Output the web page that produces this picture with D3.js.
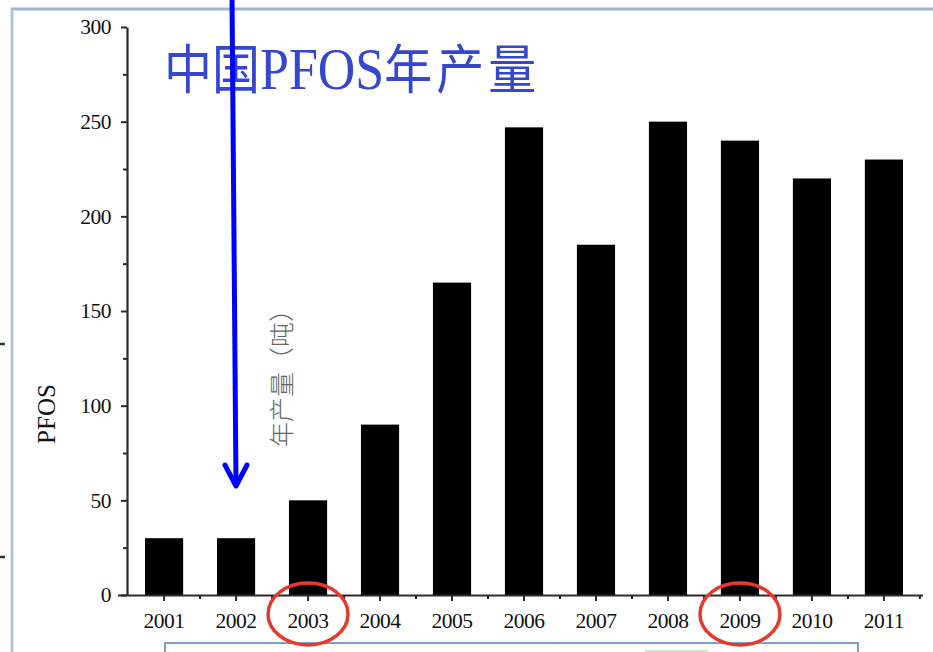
<!DOCTYPE html>
<html><head><meta charset="utf-8">
<script src="https://cdn.jsdelivr.net/npm/d3@7"></script>
<style>html,body{margin:0;padding:0;background:#fff;overflow:hidden}</style>
</head><body>
<script>
const years = ["2001","2002","2003","2004","2005","2006","2007","2008","2009","2010","2011"];
const production = [30,30,50,90,165,247,185,250,240,220,230];
const yTicks = [0,50,100,150,200,250,300];
const yMinorTicks = [25,75,125,175,225,275];
const circledYears = ["2003","2009"];
const titleParts = ["中国","PFOS","年产量"];

const W = 933, H = 652;
const svg = d3.select("body").append("svg").attr("width", W).attr("height", H);

// slide frame
svg.append("line").attr("x1",11).attr("y1",9).attr("x2",W).attr("y2",9)
  .attr("stroke","#9cb2d6").attr("stroke-width",3);
svg.append("line").attr("x1",12).attr("y1",9).attr("x2",12).attr("y2",H)
  .attr("stroke","#b4c4de").attr("stroke-width",3);
svg.append("path").attr("d","M165,652V643H858V652")
  .attr("fill","none").attr("stroke","#7d9ecd").attr("stroke-width",2);
svg.append("line").attr("x1",645).attr("y1",651).attr("x2",708).attr("y2",651)
  .attr("stroke","#cfe0c8").attr("stroke-width",2);
[344,557].forEach(y => svg.append("line").attr("x1",0).attr("x2",5).attr("y1",y).attr("y2",y)
  .attr("stroke","#333").attr("stroke-width",2.5));

const x = d3.scaleBand().domain(years).range([127, 921]).paddingInner(0.47).paddingOuter(0.25);
const y = d3.scaleLinear().domain([0,300]).range([595, 27]);

// bars
svg.append("g").selectAll("rect").data(years).join("rect")
  .attr("x", d => x(d)).attr("width", x.bandwidth())
  .attr("y", (d,i) => y(production[i])).attr("height", (d,i) => y(0) - y(production[i]))
  .attr("fill", "#000");

const serif = "'Liberation Serif','Times New Roman',serif";

// y axis
const yAxis = svg.append("g").attr("transform","translate(127,0)")
  .call(d3.axisLeft(y).tickValues(yTicks).tickSize(6).tickPadding(10).tickSizeOuter(0));
svg.append("g").attr("transform","translate(127,0)")
  .call(d3.axisLeft(y).tickValues(yMinorTicks).tickSize(4).tickFormat("").tickSizeOuter(0))
  .call(g => g.select(".domain").remove());

// x axis
const xAxis = svg.append("g").attr("transform","translate(0,595)")
  .call(d3.axisBottom(x).tickSize(6).tickPadding(12).tickSizeOuter(0));
xAxis.select(".domain").attr("d","M118,0.5H923");
const bounds = years.slice(1).map(d => x(d) - x.step()*x.paddingInner()/2).concat([x(years[years.length-1]) + x.bandwidth() + x.step()*x.paddingInner()/2]);
svg.append("g").attr("transform","translate(0,595)").selectAll("line").data(bounds).join("line")
  .attr("x1", d => d).attr("x2", d => d).attr("y1", 0).attr("y2", 4)
  .attr("stroke","#222").attr("stroke-width",2);

[yAxis, xAxis].forEach(g => {
  g.select(".domain").attr("stroke","#2a2a2a").attr("stroke-width",2.2);
  g.selectAll(".tick line").attr("stroke","#2a2a2a").attr("stroke-width",2);
  g.selectAll(".tick text").attr("font-family",serif).attr("font-size",21.5).attr("fill","#111")
    .attr("letter-spacing","-0.5px");
});
svg.selectAll("g .tick line").attr("stroke","#2a2a2a").attr("stroke-width",2);

// axis titles
svg.append("text").attr("transform","translate(55,414) rotate(-90)")
  .attr("text-anchor","middle").attr("font-family",serif).attr("font-size",25).attr("fill","#111")
  .text("PFOS");
svg.append("text").attr("transform","translate(291,372) rotate(-90)")
  .attr("text-anchor","middle").attr("font-family","'Noto Sans CJK SC',sans-serif")
  .attr("font-size",25).attr("font-weight",300).attr("fill","#666")
  .text("年产量（吨）");

// title
const t = svg.append("text").attr("transform","translate(164,89) scale(1,1.12)")
  .attr("fill","#3546cf").attr("font-size",48);
t.append("tspan").attr("font-family","'Noto Sans CJK SC',sans-serif").attr("font-weight",400).text(titleParts[0]);
t.append("tspan").attr("font-family",serif).attr("font-size",52).text(titleParts[1]);
t.append("tspan").attr("font-family","'Noto Sans CJK SC',sans-serif").attr("font-weight",400)
  .attr("letter-spacing","4px").text(titleParts[2]);

// red circles around labels
svg.append("g").selectAll("ellipse").data(circledYears).join("ellipse")
  .attr("cx", d => x(d) + x.bandwidth()/2).attr("cy", 614)
  .attr("rx", 40).attr("ry", 31)
  .attr("fill","none").attr("stroke","#e23b2b").attr("stroke-width",3.5);

// blue arrow
svg.append("line").attr("x1",232).attr("y1",-5).attr("x2",236).attr("y2",484)
  .attr("stroke","#0000ff").attr("stroke-width",5);
svg.append("polyline").attr("points","225,465 236,486 247,465")
  .attr("fill","none").attr("stroke","#0000ff").attr("stroke-width",5)
  .attr("stroke-linecap","round").attr("stroke-linejoin","round");
</script>
</body></html>
